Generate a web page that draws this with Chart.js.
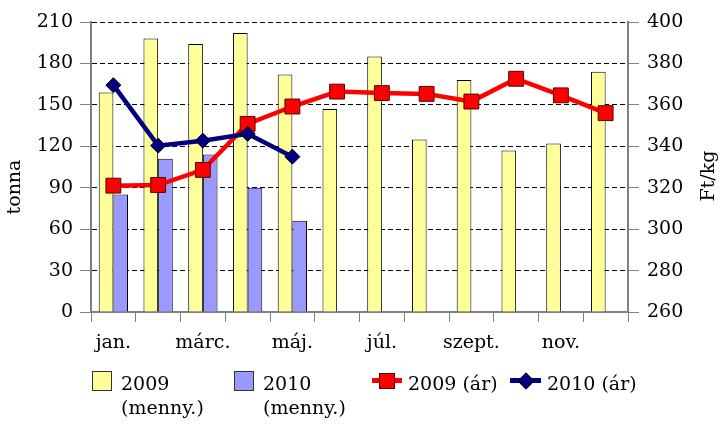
<!DOCTYPE html>
<html>
<head>
<meta charset="utf-8">
<script src="https://cdn.jsdelivr.net/npm/chart.js@4/dist/chart.umd.min.js"></script>
<style>
  body { margin: 0; background: #fff; }
  #wrap { position: relative; width: 721px; height: 424px; font-family: 'DejaVu Serif', serif; font-size: 19px; color: #000; }
  #chart { position: absolute; left: 0; top: 0; }
  .lg { position: absolute; line-height: 24px; white-space: nowrap; }
  .box { position: absolute; width: 18px; height: 18px; border: 1px solid #333; }
</style>
</head>
<body>
<div id="wrap">
  <canvas id="chart" width="721" height="424"></canvas>
  <div class="box" style="left:92px;top:371px;background:#FFFF99"></div>
  <div class="lg" style="left:121px;top:371px">2009<br>(menny.)</div>
  <div class="box" style="left:234px;top:371px;background:#9999FF"></div>
  <div class="lg" style="left:263px;top:371px">2010<br>(menny.)</div>
  <div style="position:absolute;left:372px;top:378px;width:30px;height:5px;background:#FF0000"></div>
  <div style="position:absolute;left:379px;top:373px;width:14px;height:14px;background:#FF0000;border:1px solid #5a0000"></div>
  <div class="lg" style="left:408px;top:371px">2009 (ár)</div>
  <div style="position:absolute;left:510px;top:378px;width:31px;height:5px;background:#000080"></div>
  <div style="position:absolute;left:520px;top:375px;width:10px;height:10px;background:#000080;border:1px solid #000;transform:rotate(45deg)"></div>
  <div class="lg" style="left:547px;top:371px">2010 (ár)</div>
</div>
<script>
// --- DONNÉES ---
const honapok = ['jan.', 'febr.', 'márc.', 'ápr.', 'máj.', 'jún.', 'júl.', 'aug.', 'szept.', 'okt.', 'nov.', 'dec.'];
const menny2009 = [159, 198, 194, 202, 172, 147, 185, 125, 168, 117, 122, 174];
const menny2010 = [85, 111, 114, 90, 66, null, null, null, null, null, null, null];
const ar2009 = [321, 321.3, 328.6, 350.8, 359.2, 366.4, 365.7, 365.3, 361.6, 372.6, 364.6, 356];
const ar2010 = [369.5, 340.3, 342.7, 346, 335, null, null, null, null, null, null, null];

Chart.defaults.font.family = "'DejaVu Serif', serif";
Chart.defaults.font.size = 19;
Chart.defaults.color = '#000';

const GRAY = '#808080';

// titres des axes (lus de bas en haut des deux côtés)
const axisTitles = {
    id: 'axisTitles',
    afterDraw(chart) {
        const ctx = chart.ctx;
        ctx.save();
        ctx.font = "19px 'DejaVu Serif', serif";
        ctx.fillStyle = '#000';
        ctx.textAlign = 'center';
        ctx.textBaseline = 'middle';
        ctx.translate(15, 187);
        ctx.rotate(-Math.PI / 2);
        ctx.fillText('tonna', 0, 0);
        ctx.restore();
        ctx.save();
        ctx.font = "19px 'DejaVu Serif', serif";
        ctx.fillStyle = '#000';
        ctx.textAlign = 'center';
        ctx.textBaseline = 'middle';
        ctx.translate(709, 176);
        ctx.rotate(-Math.PI / 2);
        ctx.fillText('Ft/kg', 0, 0);
        ctx.restore();
    }
};

new Chart(document.getElementById('chart'), {
    data: {
        labels: honapok,
        datasets: [
            {
                type: 'line', label: '2010 (ár)', data: ar2010, yAxisID: 'y2', order: 0,
                borderColor: '#000080', borderWidth: 4.5, tension: 0,
                pointStyle: 'rectRot', pointRadius: 7.5, pointHoverRadius: 7.5,
                pointBackgroundColor: '#000080', pointBorderColor: '#000', pointBorderWidth: 1
            },
            {
                type: 'line', label: '2009 (ár)', data: ar2009, yAxisID: 'y2', order: 1,
                borderColor: '#FF0000', borderWidth: 4.5, tension: 0,
                pointStyle: 'rect', pointRadius: 10.5, pointHoverRadius: 10.5,
                pointBackgroundColor: '#FF0000', pointBorderColor: '#5a0000', pointBorderWidth: 1
            },
            {
                type: 'bar', label: '2009 (menny.)', data: menny2009, yAxisID: 'y', order: 2,
                backgroundColor: '#FFFF99', borderColor: '#000', borderWidth: 1,
                categoryPercentage: 0.655, barPercentage: 1
            },
            {
                type: 'bar', label: '2010 (menny.)', data: menny2010, yAxisID: 'y', order: 2,
                backgroundColor: '#9999FF', borderColor: '#000', borderWidth: 1,
                categoryPercentage: 0.655, barPercentage: 1
            }
        ]
    },
    options: {
        responsive: false,
        animation: false,
        events: [],
        layout: { padding: { top: 22, left: 0, right: 0, bottom: 0 } },
        plugins: { legend: { display: false }, tooltip: { enabled: false } },
        scales: {
            x: {
                offset: true,
                afterFit: s => { s.height = 112; },
                grid: { offset: true, drawOnChartArea: false, tickLength: 10, tickColor: GRAY, color: GRAY },
                border: { color: GRAY, width: 2 },
                ticks: {
                    autoSkip: false, maxRotation: 0, padding: 10,
                    callback: (v, i) => (i % 2 === 0 ? honapok[i] : '')
                }
            },
            y: {
                position: 'left', min: 0, max: 210,
                afterFit: s => { s.width = 91; },
                ticks: { stepSize: 30, padding: 7 },
                grid: { color: '#000', lineWidth: 1, tickLength: 11, tickColor: GRAY, tickWidth: 1 },
                border: { color: GRAY, width: 2, dash: [5, 3] }
            },
            y2: {
                position: 'right', min: 260, max: 400,
                afterFit: s => { s.width = 93; },
                ticks: { stepSize: 20, padding: 8 },
                grid: { drawOnChartArea: false, tickLength: 11, tickColor: GRAY, color: GRAY },
                border: { color: GRAY, width: 2 }
            }
        }
    },
    plugins: [axisTitles]
});
</script>
</body>
</html>
